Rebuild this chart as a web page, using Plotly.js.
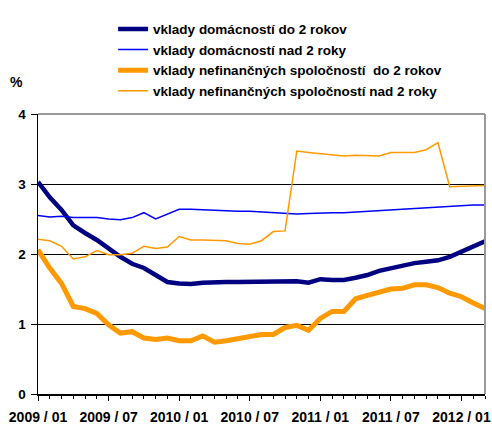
<!DOCTYPE html>
<html>
<head>
<meta charset="utf-8">
<script src="https://cdn.plot.ly/plotly-3.0.1.min.js"></script>
<style>html,body{margin:0;padding:0;background:#fff;}#chart{width:492px;height:424px;}</style>
</head>
<body>
<div id="chart"></div>
<script>
// months 2009/01 .. 2012/03
const months = [
  "2009 / 01","2009 / 02","2009 / 03","2009 / 04","2009 / 05","2009 / 06",
  "2009 / 07","2009 / 08","2009 / 09","2009 / 10","2009 / 11","2009 / 12",
  "2010 / 01","2010 / 02","2010 / 03","2010 / 04","2010 / 05","2010 / 06",
  "2010 / 07","2010 / 08","2010 / 09","2010 / 10","2010 / 11","2010 / 12",
  "2011 / 01","2011 / 02","2011 / 03","2011 / 04","2011 / 05","2011 / 06",
  "2011 / 07","2011 / 08","2011 / 09","2011 / 10","2011 / 11","2011 / 12",
  "2012 / 01","2012 / 02","2012 / 03"
];
const tickLabels = ["2009 / 01","2009 / 07","2010 / 01","2010 / 07","2011 / 01","2011 / 07","2012 / 01"];

const hhShort = [3.03,2.81,2.63,2.41,2.30,2.20,2.08,1.96,1.86,1.80,1.70,1.60,1.58,1.57,1.59,1.60,1.60,1.60,1.60,1.61,1.60,1.60,1.61,1.59,1.64,1.63,1.63,1.66,1.70,1.76,1.80,1.84,1.87,1.89,1.91,1.96,2.03,2.10,2.18];
const hhLong  = [2.55,2.53,2.54,2.52,2.52,2.52,2.50,2.49,2.52,2.59,2.50,2.57,2.64,2.64,2.63,2.62,2.61,2.61,2.61,2.60,2.60,2.59,2.57,2.58,2.59,2.59,2.59,2.60,2.62,2.63,2.64,2.64,2.65,2.66,2.67,2.69,2.70,2.70,2.70];
const nfcShort = [2.06,1.80,1.58,1.25,1.22,1.15,0.99,0.87,0.89,0.80,0.78,0.80,0.76,0.76,0.83,0.74,0.76,0.79,0.82,0.85,0.85,0.95,0.98,0.91,1.08,1.18,1.18,1.36,1.41,1.45,1.50,1.51,1.56,1.56,1.52,1.44,1.39,1.30,1.22];
const nfcLong  = [2.21,2.19,2.11,1.93,1.96,2.05,1.99,1.99,2.01,2.11,2.08,2.10,2.25,2.20,2.20,2.20,2.19,2.15,2.14,2.19,2.32,2.33,3.47,3.45,3.43,3.42,3.40,3.41,3.41,3.40,3.45,3.45,3.45,3.49,3.59,2.96,2.97,2.97,2.98];

const names = [
  "vklady domácností do 2 rokov",
  "vklady domácností nad 2 roky",
  "vklady nefinančných spoločností  do 2 rokov",
  "vklady nefinančných spoločností nad 2 roky"
];

const xs = months.map((m, i) => i);
const tickIdx = tickLabels.map(l => months.indexOf(l));
const FONT = 'Liberation Sans, Arial, sans-serif';

const traces = [
  {x: xs, y: hhShort, name: names[0], mode: 'lines', line: {color: '#000080', width: 4.5}},
  {x: xs, y: hhLong, name: names[1], mode: 'lines', line: {color: '#0000FF', width: 1.5}},
  {x: xs, y: nfcShort, name: names[2], mode: 'lines', line: {color: '#FF9900', width: 5}},
  {x: xs, y: nfcLong, name: names[3], mode: 'lines', line: {color: '#FF9900', width: 1.5}}
];

const layout = {
  width: 492, height: 424,
  margin: {l: 38, r: 7, t: 114, b: 30, pad: 0},
  paper_bgcolor: '#fff', plot_bgcolor: '#fff',
  font: {family: FONT, color: '#000'},
  showlegend: true,
  legend: {
    x: 0.168, y: 1.358, xanchor: 'left', yanchor: 'top',
    font: {size: 13.5, family: FONT, weight: 'bold', color: '#000'},
    tracegroupgap: 0, bgcolor: 'rgba(0,0,0,0)', itemwidth: 30
  },
  xaxis: {
    range: [0, months.length - 1],
    tickmode: 'array', tickvals: tickIdx, ticktext: tickLabels,
    ticks: 'outside', ticklen: 5, tickcolor: '#000', tickwidth: 1,
    ticklabelstandoff: 5,
    tickfont: {size: 14, weight: 'bold', family: FONT},
    showline: true, linecolor: '#000', linewidth: 1.5,
    showgrid: false, zeroline: false, fixedrange: true,
    minor: {dtick: 1, tick0: 0, ticks: 'outside', ticklen: 3.5, tickcolor: '#000', showgrid: false}
  },
  xaxis2: {
    overlaying: 'x', anchor: 'y', side: 'bottom',
    range: [0, months.length - 1],
    tickmode: 'array', tickvals: tickIdx, ticktext: tickLabels.map(() => ''),
    ticks: 'inside', ticklen: 5, tickcolor: '#000', tickwidth: 1,
    showticklabels: false, showline: false, showgrid: false, zeroline: false, fixedrange: true
  },
  yaxis: {
    range: [0, 4], tickmode: 'array', tickvals: [0, 1, 2, 3, 4], ticktext: ['0','1','2','3','4'],
    ticks: 'outside', ticklen: 6, tickcolor: '#000',
    ticklabelstandoff: 2,
    tickfont: {size: 13.5, weight: 'bold', family: FONT},
    showline: true, linecolor: '#000', linewidth: 1.5,
    showgrid: true, gridcolor: '#000', gridwidth: 1,
    zeroline: false, fixedrange: true
  },
  shapes: [
    {type: 'line', xref: 'paper', yref: 'paper', x0: 0, x1: 1, y0: 1, y1: 1, line: {color: '#999', width: 2}, layer: 'above'},
    {type: 'line', xref: 'paper', yref: 'paper', x0: 1, x1: 1, y0: 0, y1: 1, line: {color: '#999', width: 2}, layer: 'above'}
  ],
  annotations: [
    {text: '%', xref: 'paper', yref: 'paper', x: -0.047, y: 1.115, xanchor: 'center', yanchor: 'middle', showarrow: false,
     font: {size: 14, weight: 'bold', family: FONT}}
  ]
};

Plotly.newPlot('chart', traces, layout, {displayModeBar: false, staticPlot: true});
</script>
</body>
</html>
